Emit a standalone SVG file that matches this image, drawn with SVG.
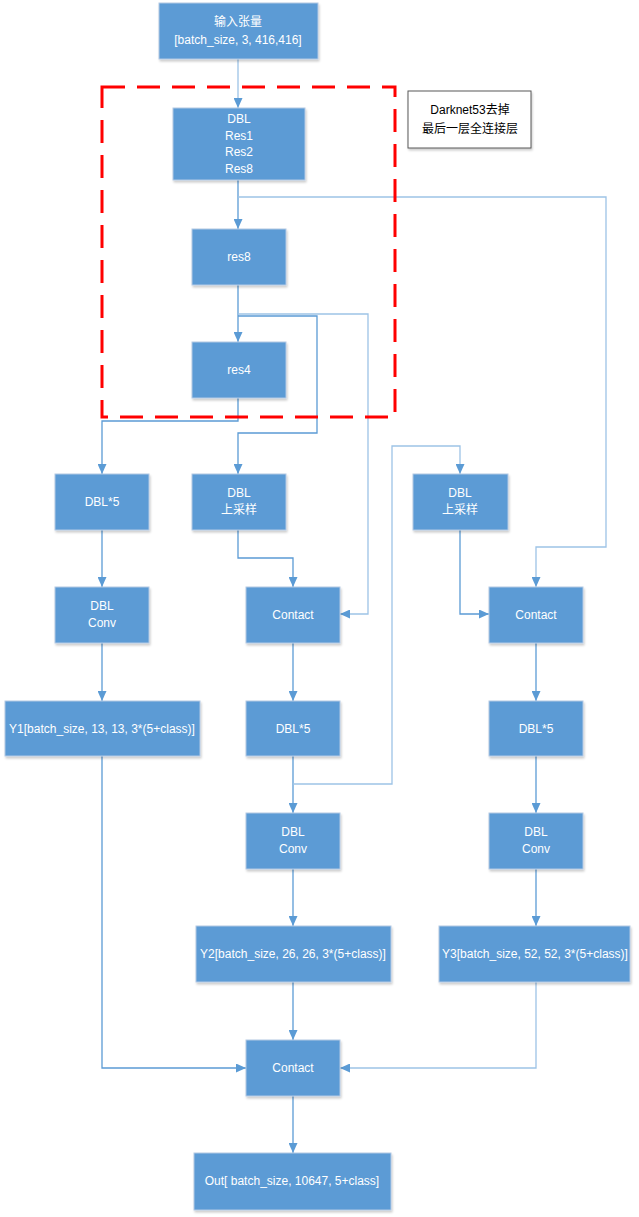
<svg xmlns="http://www.w3.org/2000/svg" width="639" height="1217" viewBox="0 0 639 1217">
<style>
.n{fill:#5B9BD5;stroke:#B4C9E4;stroke-width:1;filter:url(#sh)}
.t{font-family:"Liberation Sans","Noto Sans CJK SC",sans-serif;font-size:12px;fill:#FFFFFF;text-anchor:middle;dominant-baseline:central}
.k{font-family:"Liberation Sans","Noto Sans CJK SC",sans-serif;font-size:12px;fill:#000000;text-anchor:middle;dominant-baseline:central}
.c{fill:none;stroke:#5B9BD5;stroke-width:1.3;marker-end:url(#a)}
.cl{fill:none;stroke:#9DC3E6;stroke-width:1.3;marker-end:url(#a)}
</style>
<defs>
<filter id="sh" x="-10%" y="-10%" width="130%" height="140%">
<feDropShadow dx="1" dy="2" stdDeviation="1.2" flood-color="#000" flood-opacity="0.2"/>
</filter>
<marker id="a" markerUnits="userSpaceOnUse" markerWidth="10" markerHeight="9" refX="10" refY="4.5" orient="auto">
<path d="M0,0 L10,4.5 L0,9 z" fill="#5B9BD5"/>
</marker>
</defs>
<rect width="639" height="1217" fill="#FFFFFF"/>

<g id="connectors">
<path class="cl" d="M238,59 V108"/>
<path class="c" d="M238,180 V229"/>
<path class="cl" d="M238,197 H606 V547 H536 V587"/>
<path class="c" d="M238,285 V342"/>
<path class="cl" d="M238,314 H368 V614 H340"/>
<path class="c" d="M238,316 H317 V433 H238 V474"/>
<path class="c" d="M238,398 V421 H102 V474"/>
<path class="c" d="M102,530 V587"/>
<path class="c" d="M102,643 V701"/>
<path class="c" d="M238,530 V558 H293 V587"/>
<path class="c" d="M293,643 V701"/>
<path class="c" d="M293,756 V813"/>
<path class="cl" d="M293,784 H392 V446 H460 V474"/>
<path class="c" d="M460,530 V614 H489"/>
<path class="c" d="M536,643 V701"/>
<path class="c" d="M536,756 V813"/>
<path class="c" d="M536,869 V926"/>
<path class="c" d="M293,869 V926"/>
<path class="c" d="M102,756 V1068 H246"/>
<path class="c" d="M293,982 V1040"/>
<path class="cl" d="M536,982 V1068 H340"/>
<path class="c" d="M293,1096 V1153"/>
</g>

<g id="darknet-box">
<rect x="102" y="87" width="293" height="330" fill="none" stroke="#FF0000" stroke-width="3" stroke-dasharray="23 12"/>
</g>

<g id="note">
<rect x="408" y="91" width="123" height="57" fill="#FFFFFF" stroke="#595959" stroke-width="1" filter="url(#sh)"/>
<text class="k" x="470" y="110">Darknet53去掉</text>
<text class="k" x="470" y="129">最后一层全连接层</text>
</g>

<g id="input">
<rect class="n" x="159" y="3" width="159" height="56"/>
<text class="t" x="238" y="22">输入张量</text>
<text class="t" x="238" y="40">[batch_size, 3, 416,416]</text>
</g>

<g id="backbone">
<rect class="n" x="173" y="108" width="132" height="72"/>
<text class="t" x="239" y="119">DBL</text>
<text class="t" x="239" y="136">Res1</text>
<text class="t" x="239" y="152">Res2</text>
<text class="t" x="239" y="169">Res8</text>
</g>

<g id="res8">
<rect class="n" x="192" y="229" width="94" height="56"/>
<text class="t" x="239" y="257">res8</text>
</g>

<g id="res4">
<rect class="n" x="192" y="342" width="94" height="56"/>
<text class="t" x="239" y="370">res4</text>
</g>

<g id="dbl5-left">
<rect class="n" x="55" y="474" width="94" height="56"/>
<text class="t" x="102" y="502">DBL*5</text>
</g>

<g id="upsample-1">
<rect class="n" x="192" y="474" width="94" height="56"/>
<text class="t" x="239" y="493">DBL</text>
<text class="t" x="239" y="510">上采样</text>
</g>

<g id="upsample-2">
<rect class="n" x="413" y="474" width="95" height="56"/>
<text class="t" x="460" y="493">DBL</text>
<text class="t" x="460" y="510">上采样</text>
</g>

<g id="dblconv-left">
<rect class="n" x="55" y="587" width="94" height="56"/>
<text class="t" x="102" y="606">DBL</text>
<text class="t" x="102" y="623">Conv</text>
</g>

<g id="contact-mid">
<rect class="n" x="246" y="587" width="94" height="56"/>
<text class="t" x="293" y="615">Contact</text>
</g>

<g id="contact-right">
<rect class="n" x="489" y="587" width="94" height="56"/>
<text class="t" x="536" y="615">Contact</text>
</g>

<g id="y1">
<rect class="n" x="5" y="701" width="195" height="55"/>
<text class="t" x="102" y="729">Y1[batch_size, 13, 13, 3*(5+class)]</text>
</g>

<g id="dbl5-mid">
<rect class="n" x="246" y="701" width="94" height="55"/>
<text class="t" x="293" y="729">DBL*5</text>
</g>

<g id="dbl5-right">
<rect class="n" x="489" y="701" width="94" height="55"/>
<text class="t" x="536" y="729">DBL*5</text>
</g>

<g id="dblconv-mid">
<rect class="n" x="246" y="813" width="94" height="56"/>
<text class="t" x="293" y="832">DBL</text>
<text class="t" x="293" y="849">Conv</text>
</g>

<g id="dblconv-right">
<rect class="n" x="489" y="813" width="94" height="56"/>
<text class="t" x="536" y="832">DBL</text>
<text class="t" x="536" y="849">Conv</text>
</g>

<g id="y2">
<rect class="n" x="196" y="926" width="195" height="56"/>
<text class="t" x="293" y="954">Y2[batch_size, 26, 26, 3*(5+class)]</text>
</g>

<g id="y3">
<rect class="n" x="439" y="926" width="191" height="56"/>
<text class="t" x="535" y="954">Y3[batch_size, 52, 52, 3*(5+class)]</text>
</g>

<g id="contact-final">
<rect class="n" x="246" y="1040" width="94" height="56"/>
<text class="t" x="293" y="1068">Contact</text>
</g>

<g id="out">
<rect class="n" x="194" y="1153" width="197" height="57"/>
<text class="t" x="292" y="1181">Out[ batch_size, 10647, 5+class]</text>
</g>
</svg>
